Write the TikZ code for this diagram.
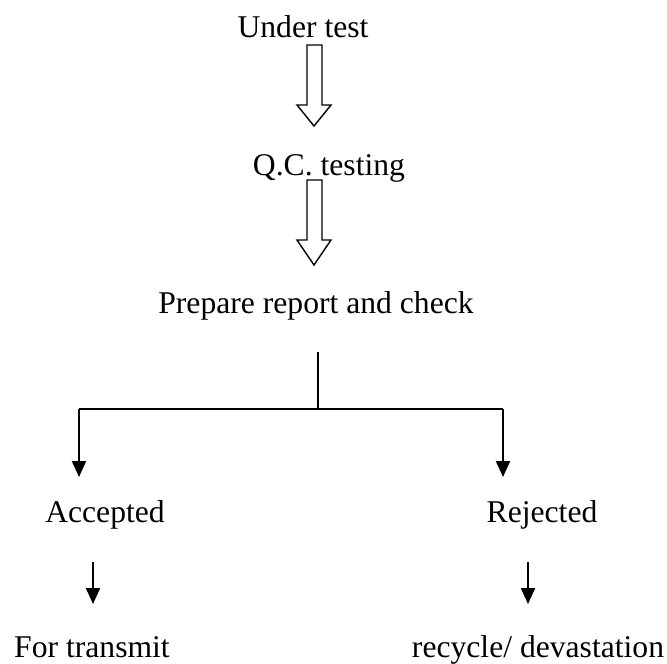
\documentclass[tikz,border=0pt]{standalone}
\usepackage{fontspec}
\setmainfont{Liberation Serif}
\usetikzlibrary{arrows.meta}

\begin{document}
\begin{tikzpicture}[x=0.03cm,y=-0.03cm,
	lbl/.style={anchor=base,inner sep=0pt,font=\fontsize{27}{32}\selectfont},
	branch/.style={line width=1.8pt},
	arr/.style={line width=1.8pt,-{Triangle[length=0.48cm,width=0.42cm]}}]
	\useasboundingbox (0,0) rectangle (667,663);
	
	\node[lbl] (under) at (303,37) {Under test};
	\node[lbl] (qc) at (329,175) {Q.C. testing};
	\node[lbl] (prep) at (316,313) {Prepare report and check};
	\node[lbl] (acc) at (105,522) {Accepted};
	\node[lbl] (rej) at (542,522) {Rejected};
	\node[lbl] (trans) at (92,657) {For transmit};
	\node[lbl] (recyc) at (538,657) {recycle/ devastation};
	
	% hollow block arrows
	\foreach \t/\h/\b in {45/105/126,180/240/265}{
		\draw[line width=1.2pt,line join=miter] (307,\t) -- (307,\h) -- (297,\h) -- (314,\b) -- (331,\h) -- (322,\h) -- (322,\t) -- cycle;
	}
	
	\coordinate (split) at (318,352);
	\coordinate (bar) at (318,409);
	\coordinate (barl) at (79,409);
	\coordinate (barr) at (503,409);
	\coordinate (accin) at (79,477);
	\coordinate (rejin) at (503,477);
	\draw[branch] (split) -- (bar);
	\draw[branch] (barl) -- (barr);
	\draw[arr] (barl) -- (accin);
	\draw[arr] (barr) -- (rejin);
	
	\coordinate (acco) at (93,562);
	\coordinate (transin) at (93,604);
	\coordinate (rejo) at (528,562);
	\coordinate (recycin) at (528,604);
	\draw[arr] (acco) -- (transin);
	\draw[arr] (rejo) -- (recycin);
\end{tikzpicture}
\end{document}
